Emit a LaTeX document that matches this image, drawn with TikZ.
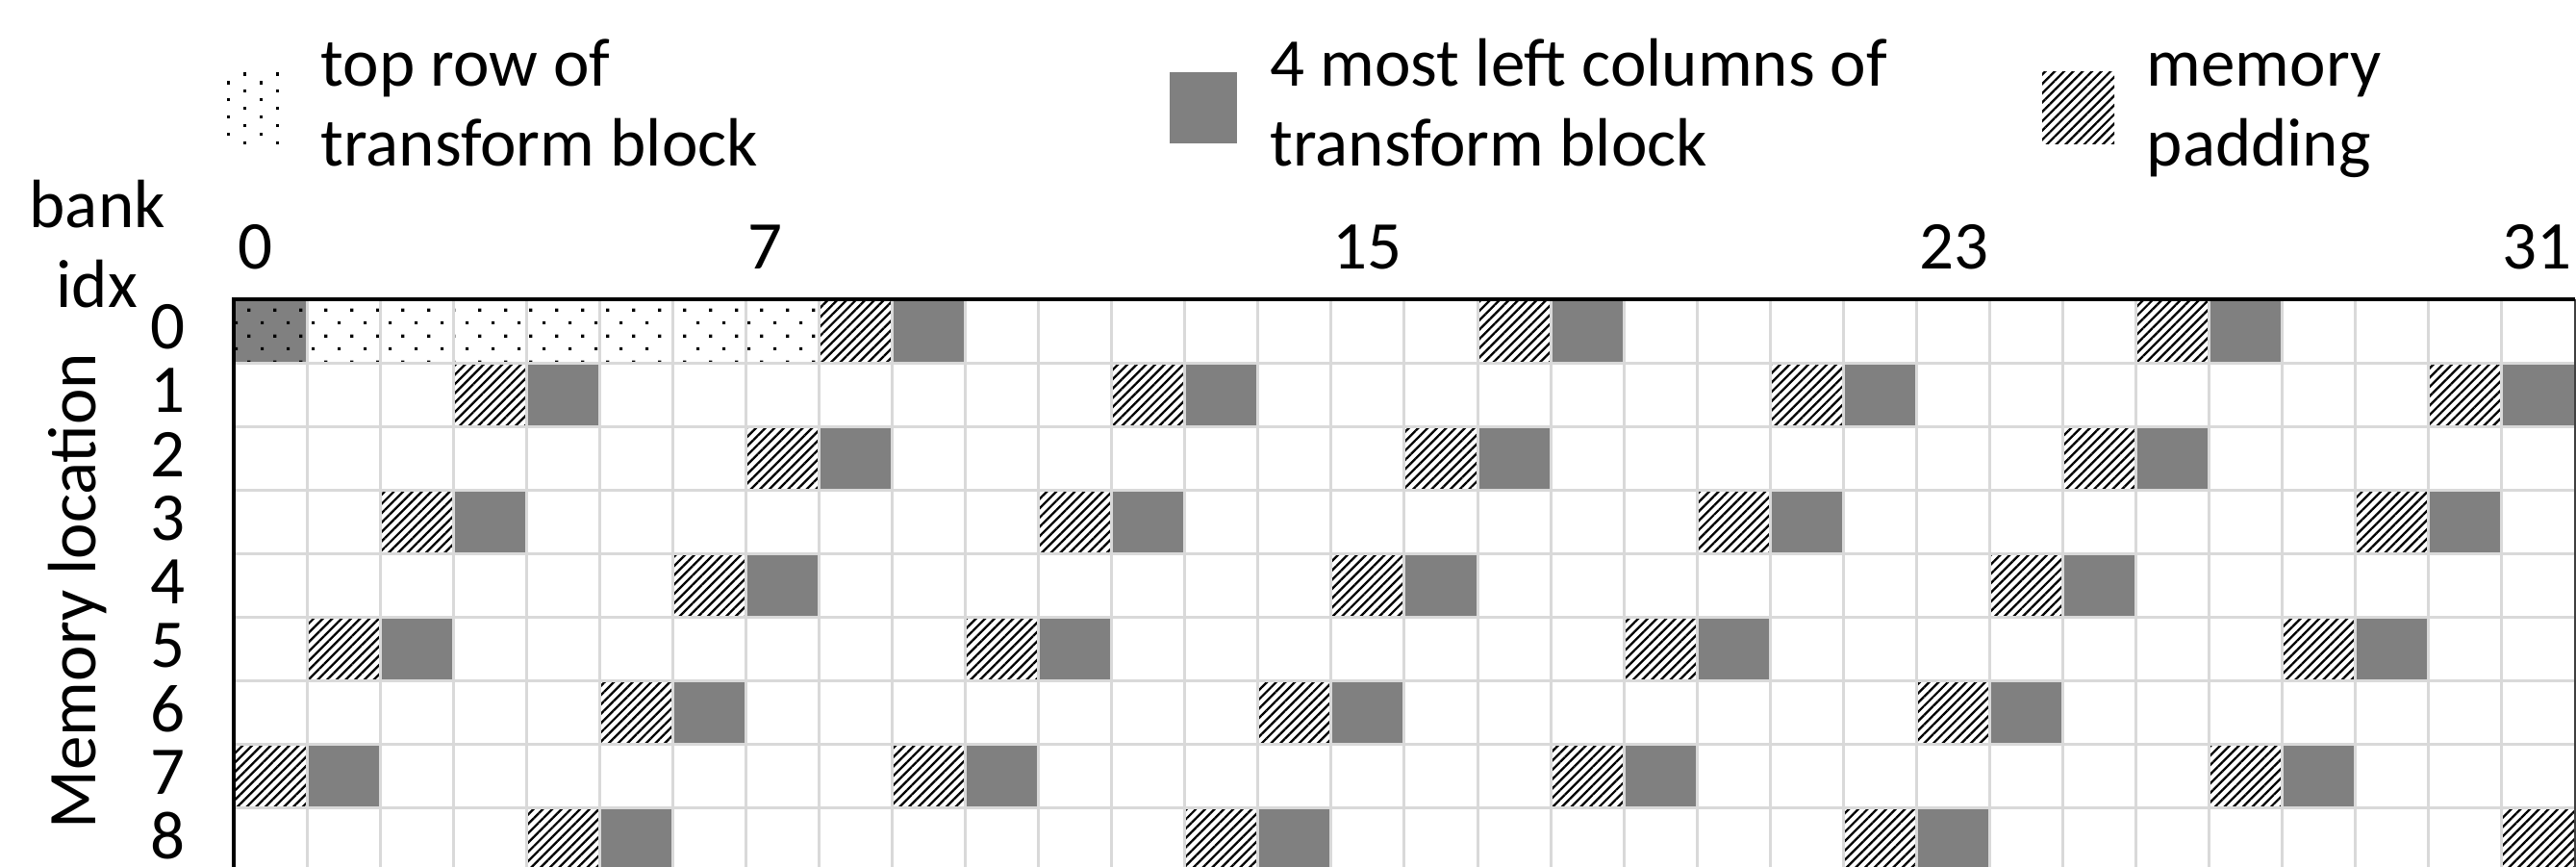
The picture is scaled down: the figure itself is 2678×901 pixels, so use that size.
\documentclass[tikz,border=0pt]{standalone}
\usepackage{fontspec}
\setmainfont{Carlito}
\usepackage{tikz}
\usetikzlibrary{patterns.meta}

\definecolor{cellgray}{HTML}{808080}
\definecolor{gridgray}{HTML}{D9D9D9}

\pgfdeclarepattern{
  name=topdots,
  type=uncolored,
  bottom left={\pgfpointorigin},
  top right={\pgfpoint{7.57pt}{7.57pt}},
  tile size={\pgfpoint{7.57pt}{7.57pt}},
  code={
    \pgfpathrectangle{\pgfpoint{1.45pt}{1.45pt}}{\pgfpoint{0.9pt}{0.9pt}}
    \pgfpathrectangle{\pgfpoint{5.23pt}{5.23pt}}{\pgfpoint{0.9pt}{0.9pt}}
    \pgfusepath{fill}
  }
}

\tikzset{
  lbl/.style={font=\fontsize{20.2}{24}\selectfont, inner sep=0pt},
  gridline/.style={draw=gridgray, line width=0.85pt},
  leftcol/.style={fill=cellgray},
  padding/.style={pattern={Lines[angle=45,distance=1.95pt,line width=0.65pt]}},
  toprow/.style={pattern=topdots}
}

\begin{document}
\begin{tikzpicture}[x=0.01cm, y=-0.01cm]
    \def\gx{243} \def\gy{311} \def\cw{76.06} \def\ch{66.1}
    \useasboundingbox (0,0) rectangle (2678,901);

    % Legend
    \foreach \row in {0,...,8} {
      \pgfmathsetmacro\dx{mod(\row,2)==0 ? 17 : 0}
      \foreach \col in {0,1}
        \fill ({235.5+\dx+34*\col},{75.5+8.9*\row}) rectangle +(3.2,3.2);
    }
    \node[lbl, anchor=base west] (lgtop) at (333,90) {top row of};
    \node[lbl, anchor=base west] (lgtopb) at (333,173) {transform block};
    \fill[leftcol] (1216,75) rectangle (1286,149);
    \node[lbl, anchor=base west] (lgleft) at (1320,90) {4 most left columns of};
    \node[lbl, anchor=base west] (lgleftb) at (1320,173) {transform block};
    \pattern[padding] (2123,75) rectangle (2198,150);
    \node[lbl, anchor=base west] (lgpad) at (2231,90) {memory};
    \node[lbl, anchor=base west] (lgpadb) at (2231,173) {padding};

    % Axis labels
    \node[lbl, anchor=base west] (bank) at (30,237) {bank};
    \node[lbl, anchor=base west] (idx) at (58,320) {idx};
    \node[lbl, anchor=base, rotate=90] (memloc) at (99,614) {Memory location};
    \node[lbl, anchor=base] (c0) at (265,280) {0};
    \node[lbl, anchor=base] (c7) at (795,280) {7};
    \node[lbl, anchor=base] (c15) at (1421,280) {15};
    \node[lbl, anchor=base] (c23) at (2031,280) {23};
    \node[lbl, anchor=base] (c31) at (2637,280) {31};
    \foreach \r in {0,...,8}
      \node[lbl] (r\r) at (175,{\gy+(\r+0.5)*\ch-4}) {\r};

    % Cells: top row, then padding and left columns every 9 words
    \fill[leftcol] (\gx,\gy) rectangle +(\cw,\ch);
    \foreach \c in {0,...,7}
      \pattern[toprow] ({\gx+\c*\cw},\gy) rectangle +(\cw,\ch);
    \foreach \k in {1,...,32} {
      \pgfmathtruncatemacro\pidx{9*\k-1}
      \pgfmathtruncatemacro\prow{div(\pidx,32)}
      \pgfmathtruncatemacro\pcol{mod(\pidx,32)}
      \pattern[padding] ({\gx+\pcol*\cw},{\gy+\prow*\ch}) rectangle +(\cw,\ch);
      \pgfmathtruncatemacro\gidx{9*\k}
      \pgfmathtruncatemacro\grow{div(\gidx,32)}
      \pgfmathtruncatemacro\gcol{mod(\gidx,32)}
      \fill[leftcol] ({\gx+\gcol*\cw},{\gy+\grow*\ch}) rectangle +(\cw,\ch);
    }

    % Grid
    \foreach \i in {1,...,31}
      \draw[gridline] ({\gx+\i*\cw},\gy) -- ++(0,620);
    \foreach \j in {1,...,9}
      \draw[gridline] (\gx,{\gy+\j*\ch}) -- ++(2440,0);
    \draw[line width=0.8pt, black!75] ({\gx+32*\cw},\gy) -- ++(0,620);
    \draw[line width=1.15pt] (\gx,950) -- (\gx,\gy) -- ({\gx+32*\cw},\gy);
\end{tikzpicture}
\end{document}
